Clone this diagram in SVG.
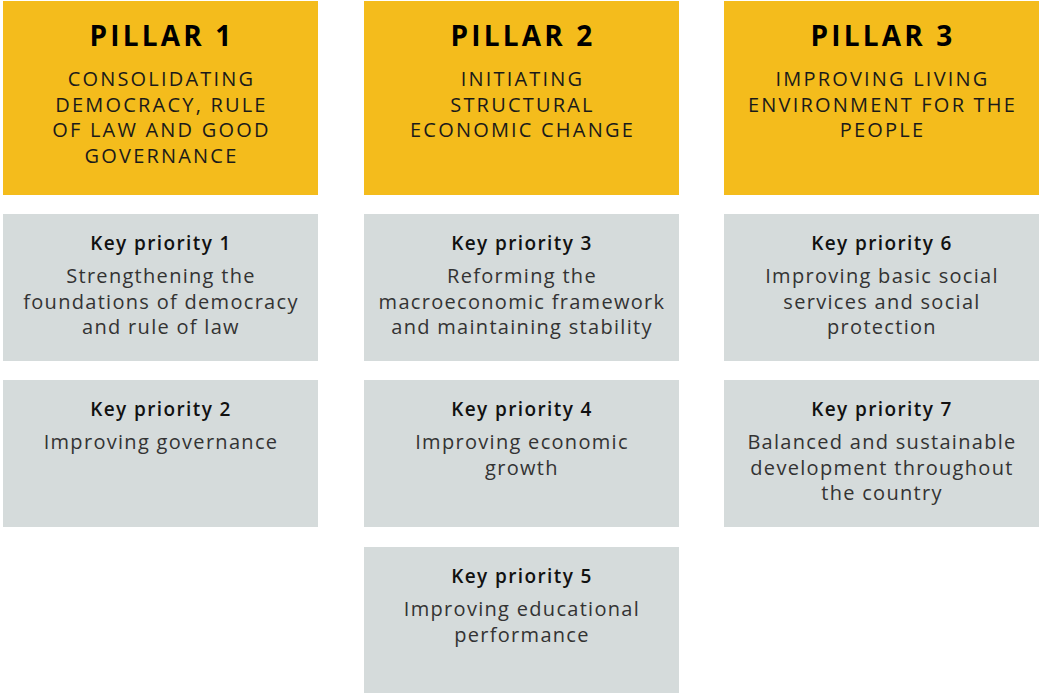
<svg xmlns="http://www.w3.org/2000/svg" width="1041" height="693" viewBox="0 0 1041 693">
<style>
.p{fill:#F4BC1C}
.g{fill:#D5DBDB}
text{font-family:"Open Sans","Liberation Sans",sans-serif;text-anchor:middle}
.t{font-size:28px;font-weight:700;fill:#000;letter-spacing:3.2px}
.s{font-size:20px;fill:#1a1a1a;letter-spacing:2.2px}
.k{font-size:19px;font-weight:600;fill:#111;letter-spacing:1.4px}
.b{font-size:20px;fill:#333;letter-spacing:1.3px}
</style>
<rect width="1041" height="693" fill="#fff"/>
<g id="pillar1"><rect class="p" x="3" y="1" width="315" height="194"/>
<text class="t" x="162" y="46">PILLAR 1</text>
<text class="s" x="161.5" y="86">CONSOLIDATING</text>
<text class="s" x="161.5" y="111.5">DEMOCRACY, RULE</text>
<text class="s" x="161.5" y="137">OF LAW AND GOOD</text>
<text class="s" x="161.5" y="163">GOVERNANCE</text></g>
<g id="pillar2"><rect class="p" x="364" y="1" width="315" height="194"/>
<text class="t" x="523" y="46">PILLAR 2</text>
<text class="s" x="522.5" y="86">INITIATING</text>
<text class="s" x="522.5" y="111.5">STRUCTURAL</text>
<text class="s" x="522.5" y="137">ECONOMIC CHANGE</text></g>
<g id="pillar3"><rect class="p" x="724" y="1" width="315" height="194"/>
<text class="t" x="883" y="46">PILLAR 3</text>
<text class="s" x="882.5" y="86">IMPROVING LIVING</text>
<text class="s" x="882.5" y="111.5">ENVIRONMENT FOR THE</text>
<text class="s" x="882.5" y="137">PEOPLE</text></g>
<g id="kp1"><rect class="g" x="3" y="214" width="315" height="147"/>
<text class="k" x="161" y="250">Key priority 1</text>
<text class="b" x="161" y="283">Strengthening the</text>
<text class="b" x="161" y="308.5">foundations of democracy</text>
<text class="b" x="161" y="334">and rule of law</text></g>
<g id="kp2"><rect class="g" x="3" y="380" width="315" height="147"/>
<text class="k" x="161" y="416">Key priority 2</text>
<text class="b" x="161" y="449">Improving governance</text></g>
<g id="kp3"><rect class="g" x="364" y="214" width="315" height="147"/>
<text class="k" x="522" y="250">Key priority 3</text>
<text class="b" x="522" y="283">Reforming the</text>
<text class="b" x="522" y="308.5">macroeconomic framework</text>
<text class="b" x="522" y="334">and maintaining stability</text></g>
<g id="kp4"><rect class="g" x="364" y="380" width="315" height="147"/>
<text class="k" x="522" y="416">Key priority 4</text>
<text class="b" x="522" y="449">Improving economic</text>
<text class="b" x="522" y="474.5">growth</text></g>
<g id="kp5"><rect class="g" x="364" y="547" width="315" height="146"/>
<text class="k" x="522" y="583">Key priority 5</text>
<text class="b" x="522" y="616">Improving educational</text>
<text class="b" x="522" y="641.5">performance</text></g>
<g id="kp6"><rect class="g" x="724" y="214" width="315" height="147"/>
<text class="k" x="882" y="250">Key priority 6</text>
<text class="b" x="882" y="283">Improving basic social</text>
<text class="b" x="882" y="308.5">services and social</text>
<text class="b" x="882" y="334">protection</text></g>
<g id="kp7"><rect class="g" x="724" y="380" width="315" height="147"/>
<text class="k" x="882" y="416">Key priority 7</text>
<text class="b" x="882" y="449">Balanced and sustainable</text>
<text class="b" x="882" y="474.5">development throughout</text>
<text class="b" x="882" y="500">the country</text></g>
<g id="connectors"></g>
</svg>
